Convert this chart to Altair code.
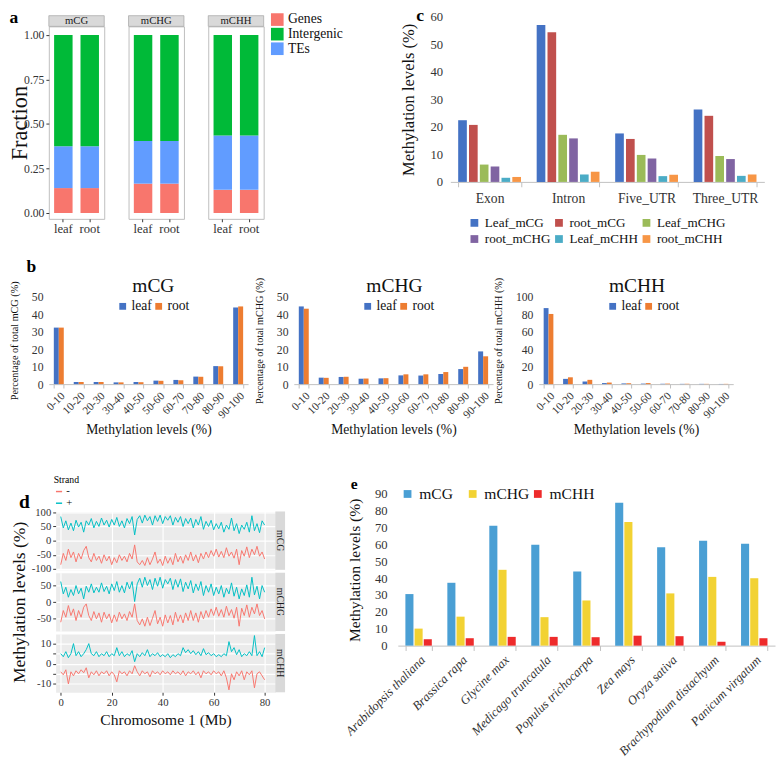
import altair as alt
import pandas as pd

FONT = "Liberation Serif"

# ---------------- Panel a : fraction of methylated sites ----------------
a_contexts = ["mCG", "mCHG", "mCHH"]
a_tissues = ["leaf", "root"]
a_regions = ["Genes", "Intergenic", "TEs"]
a_colors = ["#F8766D", "#00BA38", "#619CFF"]
a_genes = [0.14, 0.165, 0.13]
a_tes = [0.235, 0.24, 0.305]
a_intergenic = [0.625, 0.595, 0.565]

# ---------------- Panel b : distribution of methylation levels ----------------
b_bins = ["0-10", "10-20", "20-30", "30-40", "40-50", "50-60", "60-70", "70-80", "80-90", "90-100"]
b_tissues = ["leaf", "root"]
b_colors = ["#4472C4", "#ED7D31"]
b_mCG_leaf = [32.3, 1.2, 1.2, 1.0, 1.2, 2.0, 2.4, 4.3, 10.3, 43.8]
b_mCG_root = [32.3, 1.2, 1.2, 1.0, 1.1, 1.9, 2.2, 4.2, 10.2, 44.4]
b_mCHG_leaf = [44.4, 3.7, 4.1, 3.1, 3.3, 5.0, 4.9, 5.8, 8.6, 18.7]
b_mCHG_root = [43.1, 3.6, 4.2, 3.2, 3.4, 5.6, 5.6, 6.9, 9.9, 15.9]
b_mCHH_leaf = [86.9, 6.0, 3.0, 1.2, 0.8, 0.6, 0.4, 0.3, 0.3, 0.2]
b_mCHH_root = [80.2, 7.8, 4.9, 1.8, 1.0, 1.2, 0.6, 0.4, 0.3, 0.3]

# ---------------- Panel c : methylation of gene features ----------------
c_regions = ["Exon", "Intron", "Five_UTR", "Three_UTR"]
c_series = ["Leaf_mCG", "root_mCG", "Leaf_mCHG", "root_mCHG", "Leaf_mCHH", "root_mCHH"]
c_colors = ["#4472C4", "#C0504D", "#9BBB59", "#8064A2", "#4BACC6", "#F79646"]
c_leaf_mCG = [22.4, 57.0, 17.6, 26.3]
c_root_mCG = [20.7, 54.3, 15.6, 24.0]
c_leaf_mCHG = [6.3, 17.1, 9.8, 9.4]
c_root_mCHG = [5.6, 15.8, 8.5, 8.3]
c_leaf_mCHH = [1.5, 2.7, 2.1, 2.2]
c_root_mCHH = [1.8, 3.7, 2.6, 2.7]

# ---------------- Panel d : methylation along chromosome 1 ----------------
d_pos_mb = list(range(81))
d_strands = ["-", "+"]
d_colors = ["#F8766D", "#00BFC4"]
d_mCG_plus = [85, 45, 70, 38, 62, 35, 72, 48, 65, 30,
              70, 55, 78, 45, 68, 50, 80, 55, 72, 48,
              75, 55, 82, 50, 70, 45, 78, 60, 85, 20,
              75, 88, 62, 90, 70, 85, 55, 88, 68, 90,
              60, 85, 72, 88, 55, 82, 65, 85, 50, 78,
              60, 80, 45, 75, 55, 85, 40, 68, 50, 72,
              38, 60, 42, 65, 30, 55, 40, 80, 35, 60,
              25, 55, 40, 65, 30, 88, 35, 60, 28, 70,
              55]
d_mCG_minus = [-85, -45, -70, -30, -60, -40, -75, -45, -65, -35,
               -20, -60, -75, -45, -70, -55, -80, -50, -72, -55,
               -85, -60, -78, -50, -70, -55, -75, -45, -65, -15,
               -75, -85, -70, -88, -60, -85, -65, -40, -80, -65,
               -88, -55, -80, -60, -85, -45, -75, -55, -80, -50,
               -70, -40, -72, -50, -78, -45, -65, -40, -60, -35,
               -55, -30, -58, -38, -60, -25, -55, -40, -62, -30,
               -85, -35, -55, -22, -60, -30, -50, -20, -55, -40,
               -65]
d_mCHG_plus = [62, 25, 45, 15, 38, 20, 50, 25, 42, 10,
               48, 30, 55, 28, 45, 30, 58, 32, 48, 25,
               55, 35, 62, 30, 50, 28, 60, 40, 62, 2,
               55, 72, 45, 75, 50, 68, 38, 72, 48, 75,
               42, 68, 55, 72, 38, 68, 45, 70, 32, 60,
               40, 65, 28, 55, 35, 62, 20, 50, 30, 55,
               20, 45, 25, 50, 15, 42, 25, 58, 18, 45,
               10, 40, 20, 52, 15, 75, 22, 48, 10, 50,
               30]
d_mCHG_minus = [-60, -25, -45, -10, -40, -20, -55, -25, -45, -15,
                -5, -40, -55, -28, -50, -32, -60, -30, -50, -35,
                -62, -38, -58, -30, -50, -35, -55, -28, -45, -5,
                -55, -68, -50, -72, -45, -70, -48, -25, -65, -45,
                -72, -38, -62, -40, -68, -30, -58, -38, -62, -32,
                -55, -25, -55, -32, -60, -28, -50, -25, -45, -20,
                -40, -15, -42, -22, -45, -12, -40, -22, -48, -15,
                -72, -18, -40, -8, -45, -15, -35, -5, -40, -25,
                -50]
d_mCHH_plus = [5, 3.5, 6, 3, 5, 10, 4, 6, 3.5, 5,
               7, 10, 5, 4, 6, 3.5, 5, 4, 6, 3.5,
               5, 4, 8, 4, 6, 3.5, 5, 4, 6.5, 1,
               5, 3.5, 5.5, 4, 7, 3.5, 5, 4, 5.5, 3.5,
               4.5, 3.5, 5, 3, 4.5, 3.5, 5, 4, 8, 5.5,
               7, 5, 6.5, 4.5, 6, 4, 7.5, 4.5, 5.5, 4,
               5, 3.5, 4.5, 3.5, 5, 4, 11, 6, 8, 4.5,
               7, 3.5, 5, 4, 6, 4, 14, 4, 6, 3.5,
               8]
d_mCHH_minus = [-4, -5.5, -3, -10, -4, -6, -3.5, -5, -3, -4.5,
                -2, -7, -4, -5.5, -3.5, -6, -4, -5, -3.5, -6,
                -4, -5.5, -9, -3.5, -5, -4, -6, -3.5, -5, -1,
                -4, -6, -3.5, -5, -4, -6.5, -3.5, -5, -4, -5.5,
                -3.5, -5, -4, -5.5, -3.5, -5, -4, -5.5, -3.5, -6,
                -4, -5, -3.5, -5.5, -4, -7, -3.5, -5, -4, -5.5,
                -3.5, -5, -4, -6, -3.5, -7, -13, -5, -8, -4,
                -6, -3.5, -8, -4, -5.5, -3.5, -12, -5, -4, -6,
                -8]

# ---------------- Panel e : methylation across species ----------------
e_species = ["Arabidopsis thaliana", "Brassica rapa", "Glycine max", "Medicago truncatula",
             "Populus trichocarpa", "Zea mays", "Oryza sativa", "Brachypodium distachyum",
             "Panicum virgatum"]
e_contexts = ["mCG", "mCHG", "mCHH"]
e_colors = ["#4A9FD4", "#F2D233", "#EE2B2B"]
e_mCG = [30.6, 37.3, 71.2, 59.9, 44.0, 84.8, 58.4, 62.2, 60.5]
e_mCHG = [10.1, 17.2, 45.0, 16.9, 26.8, 73.3, 31.0, 40.8, 40.0]
e_mCHH = [3.8, 4.4, 5.2, 5.2, 5.0, 5.9, 5.6, 2.3, 4.4]

AXC = "#333333"
IND = dict(color="independent", xOffset="independent")


def label_text(txt, x, y, size=18, weight="bold", color="#000000"):
    return alt.Chart(pd.DataFrame({"t": [txt]})).mark_text(
        font=FONT, fontSize=size, fontWeight=weight, color=color,
        align="center", baseline="middle").encode(
        x=alt.value(x), y=alt.value(y), text="t:N")


def spacer():
    return alt.Chart(pd.DataFrame({"s": [0]})).mark_point(opacity=0).encode(
        x=alt.value(0), y=alt.value(0)).properties(width=1, height=1)


# ======== Panel a ========
A_W, A_H = 57, 198
a_rows = []
for i, ctx in enumerate(a_contexts):
    for t in a_tissues:
        a_rows.append(dict(context=ctx, tissue=t, region="Genes", frac=a_genes[i], ord=0))
        a_rows.append(dict(context=ctx, tissue=t, region="TEs", frac=a_tes[i], ord=1))
        a_rows.append(dict(context=ctx, tissue=t, region="Intergenic", frac=a_intergenic[i], ord=2))
df_a = pd.DataFrame(a_rows)

a_units = []
for i, ctx in enumerate(a_contexts):
    d = df_a[df_a.context == ctx]
    if i == 0:
        yax = alt.Axis(title="Fraction", titleFontSize=23, titlePadding=-8,
                       values=[0, 0.25, 0.5, 0.75, 1.0], format=".2f", labelFontSize=12,
                       domain=False, grid=False, tickSize=3, tickColor=AXC, labelPadding=2)
    else:
        yax = None
    if i == 2:
        leg = alt.Legend(title=None, orient="none", legendX=64, legendY=-14,
                         symbolType="square", symbolSize=169, symbolStrokeWidth=0,
                         labelFontSize=14, labelOffset=4, rowPadding=1)
    else:
        leg = None
    bars = alt.Chart(d).mark_bar().encode(
        x=alt.X("tissue:N", sort=a_tissues,
                scale=alt.Scale(paddingInner=0.3, paddingOuter=0.2),
                axis=alt.Axis(title=None, labelAngle=0, labelFontSize=13, domain=False,
                              tickSize=3, tickColor=AXC, labelPadding=1)),
        y=alt.Y("frac:Q", stack="zero",
                scale=alt.Scale(domain=[-0.033, 1.049], nice=False, zero=False), axis=yax),
        color=alt.Color("region:N", scale=alt.Scale(domain=a_regions, range=a_colors), legend=leg),
        order=alt.Order("ord:Q"),
    )
    lab = pd.DataFrame({"label": [ctx]})
    strip = alt.Chart(lab).mark_rect(fill="#D9D9D9", stroke="#A0A0A0", strokeWidth=0.7).encode(
        x=alt.value(0), x2=alt.value(A_W), y=alt.value(-11), y2=alt.value(0))
    strip_txt = alt.Chart(lab).mark_text(font=FONT, fontSize=11, color="#1A1A1A").encode(
        x=alt.value(A_W / 2), y=alt.value(-5.5), text="label:N")
    layers = [bars, strip, strip_txt]
    if i == 0:
        layers.append(label_text("a", -36, -8))
    a_units.append(alt.layer(*layers).properties(
        width=A_W, height=A_H,
        view=alt.ViewBackground(stroke="#BDBDBD", strokeWidth=1, fill="white")))

panel_a = alt.hconcat(*a_units, spacing=25, bounds="flush").resolve_scale(**IND)
a_wrapped = alt.vconcat(spacer(), panel_a, spacing=9, bounds="flush").resolve_scale(**IND)

# ======== Panel c ========
C_W, C_H = 323, 170
c_vals = [c_leaf_mCG, c_root_mCG, c_leaf_mCHG, c_root_mCHG, c_leaf_mCHH, c_root_mCHH]
c_rows = []
for s, vals in zip(c_series, c_vals):
    for r, v in zip(c_regions, vals):
        c_rows.append(dict(region=r, series=s, value=v))
df_c = pd.DataFrame(c_rows)

c_bars = alt.Chart(df_c).mark_bar().encode(
    x=alt.X("region:N", sort=c_regions, scale=alt.Scale(paddingInner=0.2, paddingOuter=0.1),
            axis=alt.Axis(title=None, labelAngle=0, labelFontSize=14, domainColor="#BFBFBF",
                          tickColor="#BFBFBF", tickBand="extent", tickSize=5, labelPadding=5)),
    xOffset=alt.XOffset("series:N", sort=c_series, scale=alt.Scale(paddingInner=0.2)),
    y=alt.Y("value:Q", scale=alt.Scale(domain=[0, 60], nice=False),
            axis=alt.Axis(title="Methylation levels (%)", titleFontSize=17, titlePadding=13,
                          values=[0, 10, 20, 30, 40, 50, 60], domain=False, ticks=False,
                          grid=False, labelFontSize=13, labelPadding=8)),
    color=alt.Color("series:N", sort=c_series,
                    scale=alt.Scale(domain=c_series, range=c_colors),
                    legend=alt.Legend(title=None, orient="none", legendX=18, legendY=205,
                                      columns=3, direction="horizontal", symbolType="square",
                                      symbolSize=64, symbolStrokeWidth=0, labelFontSize=13.5,
                                      labelOffset=4, columnPadding=2, rowPadding=2)),
)
panel_c = alt.layer(c_bars, label_text("c", -31, -1)).properties(width=C_W, height=C_H)

row1 = alt.hconcat(a_wrapped, panel_c, spacing=56).resolve_scale(**IND)

# ======== Panel b ========
B_H = 90
b_specs = [("mCG", b_mCG_leaf, b_mCG_root, 50, 10, 205, 5),
           ("mCHG", b_mCHG_leaf, b_mCHG_root, 50, 10, 205, 1),
           ("mCHH", b_mCHH_leaf, b_mCHH_root, 100, 20, 200, 1)]
b_units = []
for k, (ctx, leaf, root, ymax, ystep, w, tdx) in enumerate(b_specs):
    dfb = pd.DataFrame({"bin": b_bins * 2,
                        "tissue": ["leaf"] * len(b_bins) + ["root"] * len(b_bins),
                        "pct": leaf + root})
    bars = alt.Chart(dfb).mark_bar().encode(
        x=alt.X("bin:N", sort=b_bins, scale=alt.Scale(paddingInner=0.5, paddingOuter=0.25),
                axis=alt.Axis(title="Methylation levels (%)", titleFontSize=14, titlePadding=3,
                              labelAngle=-45, labelFontSize=11.5, domainColor="#BFBFBF",
                              tickColor="#BFBFBF", tickBand="extent", tickSize=4, labelPadding=2)),
        xOffset=alt.XOffset("tissue:N", sort=b_tissues,
                            scale=alt.Scale(paddingInner=0, paddingOuter=0)),
        y=alt.Y("pct:Q", scale=alt.Scale(domain=[0, ymax], nice=False),
                axis=alt.Axis(title=f"Percentage of total {ctx} (%)", titleFontSize=10.5,
                              titlePadding=12, values=list(range(0, ymax + 1, ystep)),
                              domain=False, ticks=False, grid=False, labelFontSize=12,
                              labelPadding=6)),
        color=alt.Color("tissue:N", scale=alt.Scale(domain=b_tissues, range=b_colors),
                        legend=alt.Legend(title=None, orient="none", legendX=69, legendY=3,
                                          direction="horizontal", symbolType="square",
                                          symbolSize=49, symbolStrokeWidth=0, labelFontSize=14,
                                          labelOffset=2, columnPadding=0)),
    )
    layers = [bars, label_text(ctx, w / 2 + tdx, -11, 20, "normal", "#111111")]
    if k == 0:
        layers.append(label_text("b", -18, -30))
    b_units.append(alt.layer(*layers).properties(width=w, height=B_H))

row2 = alt.hconcat(*b_units, spacing=47, bounds="flush").resolve_scale(**IND)

# ======== Panel d ========
D_W, D_H = 226, 60
d_specs = [("mCG", [-103, 103], [-100, -50, 0, 50, 100], d_mCG_minus, d_mCG_plus),
           ("mCHG", [-86.5, 88.5], [-50, 0, 50], d_mCHG_minus, d_mCHG_plus),
           ("mCHH", [-14.2, 14.8], [-10, -5, 0, 5, 10], d_mCHH_minus, d_mCHH_plus)]
d_units = []
for k, (ctx, dom, ticks, minus, plus) in enumerate(d_specs):
    dfd = pd.DataFrame({"pos": d_pos_mb * 2,
                        "strand": ["-"] * len(d_pos_mb) + ["+"] * len(d_pos_mb),
                        "value": minus + plus})
    if k == 2:
        xax = alt.Axis(title="Chromosome 1 (Mb)", titleFontSize=16, titlePadding=4,
                       values=[0, 20, 40, 60, 80], labelFontSize=11, domain=False,
                       tickSize=3, tickColor=AXC, gridColor="white", gridWidth=1.2,
                       labelPadding=2)
    else:
        xax = alt.Axis(title=None, values=[0, 20, 40, 60, 80], labels=False, ticks=False,
                       domain=False, gridColor="white", gridWidth=1.2)
    yax = alt.Axis(title=("Methylation levels (%)" if k == 1 else None), titleFontSize=18,
                   titlePadding=8, values=ticks, labelExpr="datum.value + ''",
                   labelFontSize=11, domain=False, tickSize=3,
                   tickColor=AXC, gridColor="white", gridWidth=1.2, labelPadding=2)
    if k == 0:
        leg = alt.Legend(title="Strand", orient="none", legendX=-2, legendY=-37,
                         titleFontSize=10, titleFontWeight="normal", labelFontSize=11,
                         symbolType="stroke", symbolSize=40, symbolStrokeWidth=1.5,
                         rowPadding=0, labelOffset=2, titlePadding=1)
    else:
        leg = None
    lines = alt.Chart(dfd).mark_line(strokeWidth=1).encode(
        x=alt.X("pos:Q", scale=alt.Scale(domain=[-2, 84.2], nice=False, zero=False), axis=xax),
        y=alt.Y("value:Q", scale=alt.Scale(domain=dom, nice=False, zero=False), axis=yax),
        color=alt.Color("strand:N", scale=alt.Scale(domain=d_strands, range=d_colors),
                        legend=leg),
        detail="strand:N",
    )
    lab = pd.DataFrame({"label": [ctx]})
    strip = alt.Chart(lab).mark_rect(fill="#D9D9D9").encode(
        x=alt.value(D_W), x2=alt.value(D_W + 10), y=alt.value(0), y2=alt.value(D_H))
    strip_txt = alt.Chart(lab).mark_text(font=FONT, fontSize=10, angle=90, color="#1A1A1A").encode(
        x=alt.value(D_W + 5), y=alt.value(D_H / 2), text="label:N")
    layers = [lines, strip, strip_txt]
    if k == 0:
        layers.append(label_text("d", -32, -10, 20))
    d_units.append(alt.layer(*layers).properties(
        width=D_W, height=D_H,
        view=alt.ViewBackground(fill="#EBEBEB", stroke="transparent")))

panel_d = alt.vconcat(*d_units, spacing=3, bounds="flush").resolve_scale(**IND)
d_shift = alt.hconcat(spacer(), panel_d, spacing=6, bounds="flush").resolve_scale(**IND)
d_wrapped = alt.vconcat(spacer(), d_shift, spacing=17, bounds="flush").resolve_scale(**IND)

# ======== Panel e ========
E_W, E_H = 388, 156
e_vals = [e_mCG, e_mCHG, e_mCHH]
e_rows = []
for c, vals in zip(e_contexts, e_vals):
    for s, v in zip(e_species, vals):
        e_rows.append(dict(species=s, context=c, value=v))
df_e = pd.DataFrame(e_rows)

e_bars = alt.Chart(df_e).mark_bar().encode(
    x=alt.X("species:N", sort=e_species, scale=alt.Scale(paddingInner=0.37, paddingOuter=0.18),
            axis=alt.Axis(title=None, labelAngle=-45, labelFontSize=13, labelFontStyle="italic",
                          domainColor="#BFBFBF", tickColor="#BFBFBF", tickBand="extent",
                          tickSize=5, labelPadding=3)),
    xOffset=alt.XOffset("context:N", sort=e_contexts, scale=alt.Scale(paddingInner=0.12)),
    y=alt.Y("value:Q", scale=alt.Scale(domain=[0, 90], nice=False),
            axis=alt.Axis(title="Methylation levels (%)", titleFontSize=16, titlePadding=12,
                          values=[0, 10, 20, 30, 40, 50, 60, 70, 80, 90], domain=False,
                          ticks=False, grid=False, labelFontSize=13, labelPadding=11)),
    color=alt.Color("context:N", sort=e_contexts,
                    scale=alt.Scale(domain=e_contexts, range=e_colors),
                    legend=alt.Legend(title=None, orient="none", legendX=2, legendY=-8,
                                      direction="horizontal", symbolType="square",
                                      symbolSize=64, symbolStrokeWidth=0, labelFontSize=16,
                                      labelOffset=4, columnPadding=-3, gridAlign="all")),
)
panel_e = alt.layer(e_bars, label_text("e", -45, -10, 16)).properties(width=E_W, height=E_H)

row3 = alt.hconcat(d_wrapped, panel_e, spacing=58).resolve_scale(**IND)

top = alt.vconcat(row1, row2, spacing=11).resolve_scale(**IND)
chart = alt.vconcat(top, row3, spacing=38).resolve_scale(**IND).properties(
    padding={"left": 0, "top": -13, "right": 0, "bottom": 0}
).configure(font=FONT).configure_axis(
    labelFont=FONT, titleFont=FONT, titleFontWeight="normal", labelColor=AXC, titleColor="#111111"
).configure_legend(
    labelFont=FONT, titleFont=FONT, padding=0, labelColor="#111111"
).configure_title(
    font=FONT, fontWeight="normal", color="#111111"
).configure_view(stroke="transparent")

chart.save("out.html", embed_options={"renderer": "svg", "actions": False})
